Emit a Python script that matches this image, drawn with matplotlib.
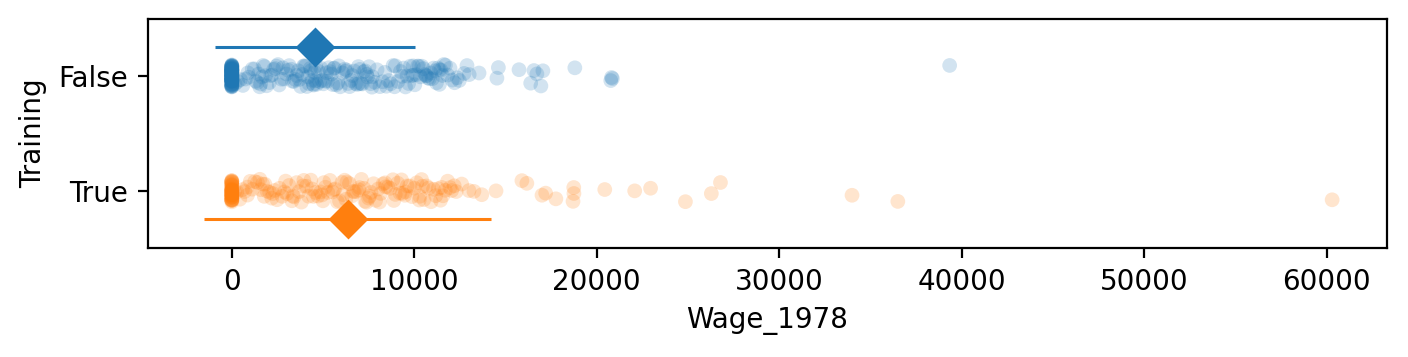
import numpy as np
import pandas as pd
import matplotlib
matplotlib.use('Agg')
import matplotlib.pyplot as plt
import seaborn as sns

wage_false_nonzero = [
    180, 320, 475, 610, 745, 880, 930, 1120, 1240, 1310,
    1395, 1530, 1585, 1660, 1790, 1845, 1910, 2060, 2135, 2210,
    2295, 2380, 2445, 2600, 2720, 2805, 2990, 3150, 3260, 3325,
    3480, 3555, 3640, 3705, 3770, 3860, 3925, 3990, 4040, 4115,
    4170, 4230, 4305, 4360, 4410, 4485, 4540, 4610, 4655, 4730,
    4815, 4880, 4960, 5025, 5110, 5190, 5240, 5315, 5390, 5465,
    5540, 5630, 5720, 5810, 5940, 6070, 6185, 6290, 6380, 6455,
    6530, 6610, 6705, 6790, 6880, 6935, 7010, 7085, 7150, 7225,
    7310, 7390, 7440, 7520, 7610, 7705, 7830, 7960, 8120, 8260,
    8390, 8470, 8590, 8710, 8840, 8960, 9110, 9240, 9330, 9415,
    9520, 9605, 9690, 9780, 9860, 9945, 10030, 10110, 10185, 10260,
    10340, 10420, 10505, 10590, 10660, 10745, 10830, 10905, 10990, 11060,
    11140, 11215, 11290, 11370, 11460, 11545, 11620, 11710, 11830, 11960,
    12080, 12210, 12350, 12470, 12730, 12890, 13010, 13550, 14530, 14610,
    15740, 16380, 16560, 16720, 16940, 17050, 18800, 20770, 20810, 20860,
    39340, 1470, 2530, 3080, 4590, 5870, 6240, 7680, 8920, 10650,
    3410, 2870, 9950, 4470, 5590, 6970, 1720, 11380,
]
n_zero_false = 92

wage_true_nonzero = [
    150, 275, 440, 585, 705, 860, 1015, 1130, 1260, 1405,
    1540, 1690, 1815, 1930, 2075, 2190, 2345, 2480, 2615, 2760,
    2880, 3025, 3140, 3295, 3410, 3560, 3690, 3815, 3950, 4085,
    4210, 4330, 4475, 4590, 4720, 4870, 4995, 5130, 5265, 5380,
    5520, 5655, 5790, 5905, 6040, 6185, 6310, 6450, 6580, 6715,
    6850, 6970, 7105, 7240, 7380, 7495, 7630, 7770, 7885, 8020,
    8160, 8290, 8430, 8560, 8690, 8830, 8960, 9090, 9215, 9350,
    9480, 9610, 9745, 9870, 10010, 10140, 10275, 10400, 10530, 10665,
    10790, 10920, 11055, 11180, 11310, 11440, 11570, 11700, 11830, 11960,
    12050, 12190, 12300, 12600, 13000, 13270, 13700, 1780, 3350, 4400,
    5600, 6250, 7000, 7550, 8100, 8880, 9520, 10450, 2250, 4950,
    6650, 850, 1600, 2950, 3900, 5050, 6100, 7300, 8400, 9300,
    10300, 11500, 14480, 15900, 16170, 17000, 17200, 17760, 18700, 18740,
    18750, 20440, 22080, 22950, 24860, 26280, 26780, 33990, 36500, 60300,
]
n_zero_true = 45

groups = ['False', 'True']
group_mean = [4555, 6349]
group_sd = [5484, 7867]

wages = [0] * n_zero_false + wage_false_nonzero + [0] * n_zero_true + wage_true_nonzero
training = ['False'] * (n_zero_false + len(wage_false_nonzero)) + ['True'] * (n_zero_true + len(wage_true_nonzero))
df = pd.DataFrame({'Wage_1978': wages, 'Training': training})

colors = sns.color_palette()[:2]

fig, ax = plt.subplots(figsize=(7.04, 1.785))
np.random.seed(3)
sns.stripplot(data=df, x='Wage_1978', y='Training', hue='Training', order=groups,
              hue_order=groups, palette=colors, orient='h', alpha=0.2,
              linewidth=0, size=5.3, legend=False, ax=ax)

dodge = [-0.25, 0.25]
for i, g in enumerate(groups):
    ax.errorbar(group_mean[i], i + dodge[i], xerr=group_sd[i], fmt='D',
                color=colors[i], markersize=9, elinewidth=1.1, capsize=0)

ax.set_ylim(1.5, -0.5)
ax.set_xlim(-4600, 63300)
fig.subplots_adjust(left=0.105, right=0.985, top=0.948, bottom=0.305)
fig.savefig('out.png', dpi=200)
